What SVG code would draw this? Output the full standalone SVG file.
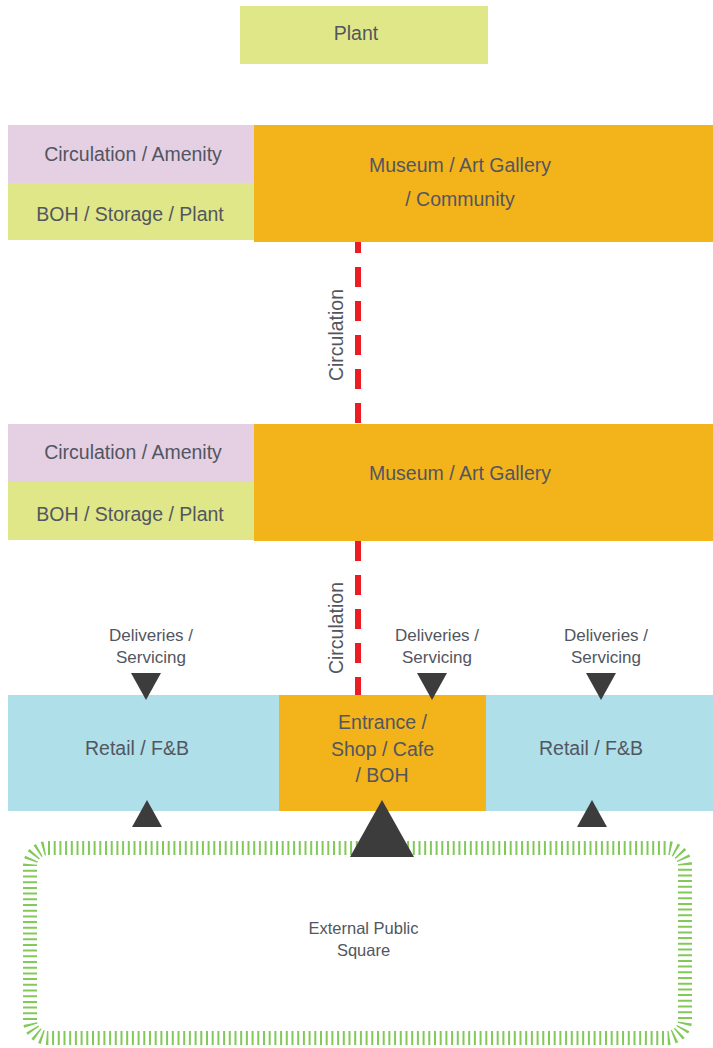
<svg xmlns="http://www.w3.org/2000/svg" width="713" height="1048" viewBox="0 0 713 1048">
<style>
text{font-family:"Liberation Sans",Arial,sans-serif;fill:#525660;text-anchor:middle}
.l{font-size:19.5px}
.s{font-size:17px}
.m{font-size:16.5px}
.pink{fill:#e4cfe3}
.lg{fill:#e0e788}
.or{fill:#f2b31b}
.bl{fill:#afdfe9}
.tri{fill:#3c3c3c}
.red{stroke:#ec1c24;stroke-width:6;stroke-dasharray:20 14;fill:none}
</style>
<rect width="713" height="1048" fill="#ffffff"/>

<g id="plant-top">
<rect class="lg" x="240" y="6" width="248" height="58"/>
<text class="l" x="356" y="40">Plant</text>
</g>

<g id="circ-amenity-1">
<rect class="pink" x="8" y="125" width="246" height="58"/>
<text class="l" x="133" y="161">Circulation / Amenity</text>
</g>
<g id="boh-1">
<rect class="lg" x="8" y="183" width="246" height="57"/>
<text class="l" x="130" y="221">BOH / Storage / Plant</text>
</g>
<g id="museum-1">
<rect class="or" x="254" y="125" width="459" height="117"/>
<text class="l" x="460" y="172">Museum / Art Gallery</text>
<text class="l" x="460" y="206">/ Community</text>
</g>

<g id="circ-amenity-2">
<rect class="pink" x="8" y="424" width="246" height="58"/>
<text class="l" x="133" y="459">Circulation / Amenity</text>
</g>
<g id="boh-2">
<rect class="lg" x="8" y="482" width="246" height="58"/>
<text class="l" x="130" y="521">BOH / Storage / Plant</text>
</g>
<g id="museum-2">
<rect class="or" x="254" y="424" width="459" height="117"/>
<text class="l" x="460" y="480">Museum / Art Gallery</text>
</g>

<g id="retail-left">
<rect class="bl" x="8" y="695" width="271" height="116"/>
<text class="l" x="137" y="755">Retail / F&amp;B</text>
</g>
<g id="entrance">
<rect class="or" x="279" y="695" width="207" height="116"/>
<text class="l" x="382.5" y="729">Entrance /</text>
<text class="l" x="382.5" y="756">Shop / Cafe</text>
<text class="l" x="382" y="782">/ BOH</text>
</g>
<g id="retail-right">
<rect class="bl" x="486" y="695" width="227" height="116"/>
<text class="l" x="591" y="755">Retail / F&amp;B</text>
</g>

<g id="external-square">
<rect x="30" y="848" width="655" height="190" rx="18" ry="18" fill="none" stroke="#82c95a" stroke-width="14" stroke-dasharray="2 3.7"/>
<text class="m" x="363.5" y="934">External Public</text>
<text class="m" x="363.5" y="956">Square</text>
</g>

<g id="connectors">
<line class="red" x1="358" y1="242" x2="358" y2="424" stroke-dashoffset="9"/>
<line class="red" x1="358" y1="541" x2="358" y2="695"/>
<text class="l" transform="translate(343,335) rotate(-90)">Circulation</text>
<text class="l" transform="translate(343,628) rotate(-90)">Circulation</text>

<text class="s" x="151" y="641">Deliveries /</text>
<text class="s" x="151" y="663">Servicing</text>
<text class="s" x="437" y="641">Deliveries /</text>
<text class="s" x="437" y="663">Servicing</text>
<text class="s" x="606" y="641">Deliveries /</text>
<text class="s" x="606" y="663">Servicing</text>

<polygon class="tri" points="131,673 161,673 146,700"/>
<polygon class="tri" points="417,673 447,673 432,700"/>
<polygon class="tri" points="586,673 616,673 601,700"/>

<polygon class="tri" points="132,827 162,827 147,800"/>
<polygon class="tri" points="577,827 607,827 592,800"/>
<polygon class="tri" points="350,857 414,857 382,800"/>
</g>
</svg>
